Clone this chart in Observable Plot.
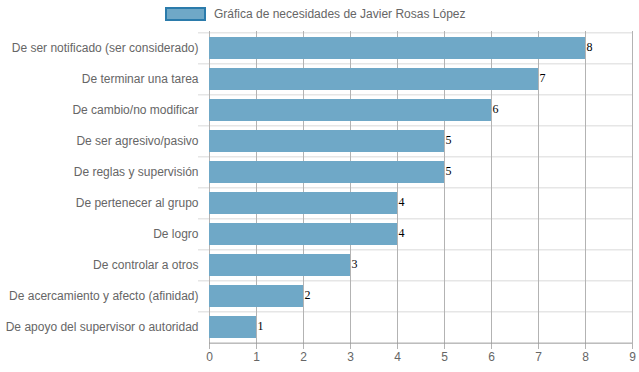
<!DOCTYPE html>
<html><head><meta charset="utf-8">
<script src="https://cdn.jsdelivr.net/npm/d3@7"></script>
<script src="https://cdn.jsdelivr.net/npm/@observablehq/plot@0.6"></script>
<style>
html,body{margin:0;padding:0;background:#fff;}
#wrap{position:relative;width:639px;height:372px;font-family:Arial,"Liberation Sans",sans-serif;}
#legend{position:absolute;left:165px;top:7px;display:flex;align-items:center;font-size:12px;color:#666;}
#legend .sw{width:37px;height:10px;background:#6fa8c7;border:2px solid #2b7bab;margin-right:8px;}
</style>
</head><body>
<div id="wrap"><div id="chart"></div><div id="legend"><div class="sw"></div><span>Gráfica de necesidades de Javier Rosas López</span></div></div>
<script>
const categories = [
  "De ser notificado (ser considerado)",
  "De terminar una tarea",
  "De cambio/no modificar",
  "De ser agresivo/pasivo",
  "De reglas y supervisión",
  "De pertenecer al grupo",
  "De logro",
  "De controlar a otros",
  "De acercamiento y afecto (afinidad)",
  "De apoyo del supervisor o autoridad"
];
const values = [8, 7, 6, 5, 5, 4, 4, 3, 2, 1];
const xTicks = [0, 1, 2, 3, 4, 5, 6, 7, 8, 9];

const data = categories.map((c, i) => ({category: c, value: values[i]}));

const W = 639, H = 372, mt = 31, mb = 28, ml = 209, mr = 7;
const step = (H - mt - mb) / categories.length;

const chart = Plot.plot({
  width: W, height: H,
  marginTop: mt, marginBottom: mb, marginLeft: ml, marginRight: mr,
  style: {fontFamily: "Arial, 'Liberation Sans', sans-serif", fontSize: "12px", color: "#666", background: "#fff"},
  x: {domain: [0, 9], ticks: xTicks},
  y: {domain: categories, paddingInner: 0.3, paddingOuter: 0.15, label: null},
  marks: [
    Plot.ruleY(categories, {y: d => d, x1: 0, x2: 9, dy: -step / 2, insetLeft: -11, stroke: "#e6e6e6", strokeWidth: 1.5}),
    Plot.ruleX(xTicks, {x: d => d, stroke: "#b3b3b3", strokeWidth: 1}),
    Plot.barX(data, {y: "category", x: "value", fill: "#6fa8c7"}),
    Plot.ruleY([0], {y: () => categories[categories.length - 1], x1: 0, x2: 9, dy: step / 2, stroke: "#999"}),
    Plot.text(data, {y: "category", x: "value", text: d => String(d.value), textAnchor: "start", dx: 1, dy: -1, fill: "#000", fontFamily: "'Liberation Serif', 'Times New Roman', serif", fontSize: 12}),
    Plot.axisX({ticks: xTicks, tickSize: 5, tickPadding: 3, stroke: "#b3b3b3", color: "#666", fontSize: 12, label: null}),
    Plot.axisY({tickSize: 0, tickPadding: 11, color: "#666", fontSize: 12, label: null})
  ]
});
document.getElementById("chart").appendChild(chart);
</script>
</body></html>
